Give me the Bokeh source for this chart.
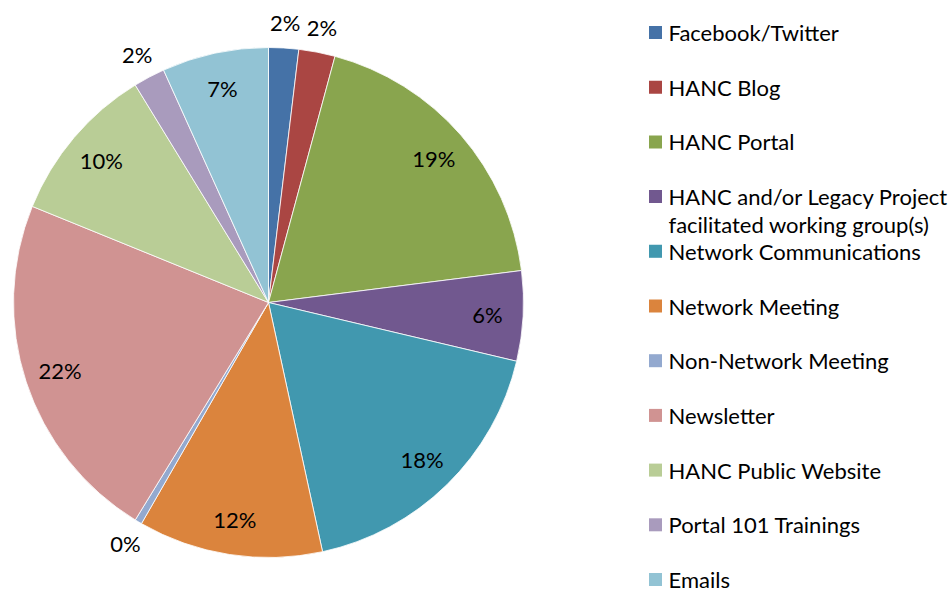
import math
from bokeh.plotting import figure
from bokeh.models import Range1d, ColumnDataSource
from bokeh.core.properties import value
from bokeh.embed import file_html
from bokeh.resources import INLINE

categories = ["Facebook/Twitter", "HANC Blog", "HANC Portal",
              "HANC and/or Legacy Project\nfacilitated working group(s)",
              "Network Communications", "Network Meeting", "Non-Network Meeting",
              "Newsletter", "HANC Public Website", "Portal 101 Trainings", "Emails"]
shares = [1.9, 2.3, 18.8, 5.7, 17.9, 11.7, 0.45, 22.4, 10.1, 2.0, 6.75]
colors = ["#4572A7", "#AA4643", "#89A54E", "#71588F", "#4198AF", "#DB843D",
          "#93A9CF", "#D09392", "#B9CD96", "#A99BBD", "#92C3D4"]

W, H = 950, 594
p = figure(width=W, height=H, output_backend="svg", toolbar_location=None,
           x_range=Range1d(0, W), y_range=Range1d(0, H), min_border=0)
p.axis.visible = False
p.grid.visible = False
p.outline_line_color = None
p.background_fill_color = "white"

FONT = value("Lato")
FS = "22px"
cx, cy, R = 268, 594 - 302, 255
total = sum(shares)

starts, ends, lx, ly, labels = [], [], [], [], []
cum = 0.0
for v in shares:
    a0 = cum / total * 2 * math.pi
    cum += v
    a1 = cum / total * 2 * math.pi
    starts.append(math.pi / 2 - a1)
    ends.append(math.pi / 2 - a0)
    mid = (a0 + a1) / 2
    rr = R * (1.1 if v < 3 else 0.86)
    lx.append(cx + rr * math.sin(mid))
    ly.append(cy + rr * math.cos(mid))
    labels.append(f"{round(v)}%")

src = ColumnDataSource(dict(start=starts, end=ends, color=colors))
p.wedge(x=cx, y=cy, radius=R, start_angle="start", end_angle="end",
        fill_color="color", line_color="white", line_width=0.8, source=src)

p.text(x=lx, y=ly, text=labels, text_font=FONT, text_font_size=FS,
       text_align="center", text_baseline="middle", text_color="#000000")

# legend
top = 594 - 32
step = 54.7
sq_x, sq_y, tx, ty, tt = [], [], [], [], []
for i, (c, col) in enumerate(zip(categories, colors)):
    yc = top - i * step
    sq_x.append(655)
    sq_y.append(yc)
    for j, line in enumerate(c.split("\n")):
        tx.append(668)
        ty.append(yc - j * 28)
        tt.append(line)
p.rect(x=sq_x, y=sq_y, width=13, height=13, fill_color=colors, line_color=None)
p.text(x=tx, y=ty, text=tt, text_font=FONT, text_font_size=FS,
       text_align="left", text_baseline="middle", text_color="#000000")

open("out.html", "w").write(file_html(p, INLINE))
